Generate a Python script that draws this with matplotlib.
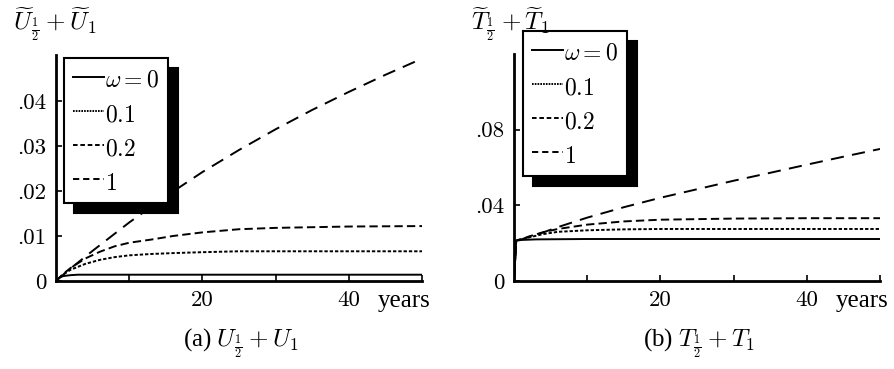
#!/usr/bin/env python3

import matplotlib
matplotlib.use('Agg')
import matplotlib.pyplot as plt
from matplotlib.lines import Line2D

# data
# (a) U_1/2 + U_1
years_u0 = [0, 0.5, 1, 2, 3, 5, 10, 20, 30, 40, 50]
u_w0 = [0, 0.0008, 0.0011, 0.0013, 0.0014, 0.0014, 0.0014, 0.0014, 0.0014, 0.0014, 0.0014]
years_u = [0, 1, 2, 4, 6, 8, 10, 13, 16, 20, 25, 30, 40, 50]
u_w01 = [0, 0.0015, 0.0025, 0.0038, 0.0047, 0.0053, 0.0057, 0.0060, 0.0062,
         0.0064, 0.0066, 0.0066, 0.0066, 0.0066]
u_w02 = [0, 0.0016, 0.0029, 0.0050, 0.0065, 0.0077, 0.0085, 0.0092, 0.0100,
         0.0108, 0.0115, 0.0118, 0.0121, 0.0122]
years_u1 = [0, 2, 5, 10, 15, 20, 25, 30, 35, 40, 45, 50]
u_w1 = [0, 0.0028, 0.0067, 0.0130, 0.0188, 0.0242, 0.0291, 0.0337, 0.0380,
        0.0420, 0.0458, 0.0494]

# (b) T_1/2 + T_1
years_t0 = [0, 0.3, 1, 3, 10, 50]
t_w0 = [0, 0.0213, 0.0217, 0.0220, 0.0222, 0.0222]
years_t = [0, 0.3, 1, 2, 4, 6, 10, 15, 20, 30, 40, 50]
t_w01 = [0, 0.0215, 0.0220, 0.0230, 0.0248, 0.0260, 0.0268, 0.0273, 0.0275,
         0.0275, 0.0275, 0.0275]
t_w02 = [0, 0.0215, 0.0220, 0.0235, 0.0258, 0.0275, 0.0298, 0.0315, 0.0324,
         0.0330, 0.0332, 0.0332]
years_t1 = [0, 0.3, 1, 2, 4, 6, 10, 15, 20, 25, 30, 35, 40, 45, 50]
t_w1 = [0, 0.0215, 0.0220, 0.0232, 0.0257, 0.0285, 0.0335, 0.0390, 0.0440,
        0.0485, 0.0530, 0.0572, 0.0615, 0.0657, 0.0698]

legend_labels = [r'$\omega=0$', r'$0.1$', r'$0.2$', r'$1$']
x_ticks = [10, 20, 30, 40, 50]
x_ticklabels = ['', '20', '', '40', '']
u_yticks = [0, 0.01, 0.02, 0.03, 0.04]
u_yticklabels = ['0', '.01', '.02', '.03', '.04']
t_yticks = [0, 0.04, 0.08]
t_yticklabels = ['0', '.04', '.08']

plt.rcParams['mathtext.fontset'] = 'cm'
plt.rcParams['font.family'] = 'serif'
plt.rcParams['font.serif'] = ['Liberation Serif', 'DejaVu Serif']
plt.rcParams['lines.scale_dashes'] = False

W, H = 894, 369
fig = plt.figure(figsize=(W / 100, H / 100), dpi=100)

styles = ['-', (0, (2.4, 1.4)), (0, (6, 3)), (0, (9.5, 6))]
leg_styles = ['-', (0, (1.2, 0.8)), (0, (3.3, 2)), (0, (4.5, 2.8))]
LW = 1.4
TICK_FS = 16.5
LEG_FS = 17
TXT_FS = 18


def panel(rect, series, yticks, yticklabels, ylim, legend_xy):
    ax = fig.add_axes(rect)
    for (xs, ys), ls in zip(series, styles):
        ax.plot(xs, ys, color='black', linestyle=ls, lw=LW)
    ax.set_xlim(0, 50)
    ax.set_ylim(*ylim)
    for s in ['top', 'right']:
        ax.spines[s].set_visible(False)
    for s in ['left', 'bottom']:
        ax.spines[s].set_linewidth(2)
    ax.set_xticks(x_ticks)
    ax.set_xticklabels(x_ticklabels, fontsize=TICK_FS, family='cmr10')
    ax.set_yticks(yticks)
    ax.set_yticklabels(yticklabels, fontsize=TICK_FS, family='cmr10')
    ax.tick_params(direction='in', length=4, width=1.2, pad=7)
    ax.text(47.5, -0.09, 'years', transform=ax.get_xaxis_transform(),
            ha='center', va='center', fontsize=TXT_FS)
    handles = [Line2D([], [], color='black', lw=LW, linestyle=ls)
               for ls in leg_styles]
    leg = ax.legend(handles, legend_labels, loc='upper left',
                    bbox_to_anchor=legend_xy, bbox_transform=fig.transFigure,
                    borderaxespad=0, fontsize=LEG_FS, fancybox=False,
                    framealpha=1, edgecolor='black', handlelength=1.33,
                    handletextpad=0.05, handleheight=1.23, labelspacing=0.38,
                    borderpad=0.36,
                    shadow={'ox': 7.2, 'oy': -7.2, 'color': 'black', 'alpha': 1})
    leg.get_frame().set_linewidth(1.5)
    return ax


panel([56 / W, 1 - 281 / H, 366 / W, 226 / H],
      [(years_u0, u_w0), (years_u, u_w01), (years_u, u_w02), (years_u1, u_w1)],
      u_yticks, u_yticklabels, (0, 0.0502), (64 / W, 1 - 58 / H))
panel([514 / W, 1 - 281 / H, 366 / W, 227 / H],
      [(years_t0, t_w0), (years_t, t_w01), (years_t, t_w02), (years_t1, t_w1)],
      t_yticks, t_yticklabels, (0, 0.120), (523 / W, 1 - 31 / H))

fig.text(13 / W, 1 - 24 / H, r'$\widetilde{U}_{\frac{1}{2}}+\widetilde{U}_1$',
         fontsize=TXT_FS, ha='left', va='center')
fig.text(471 / W, 1 - 24 / H, r'$\widetilde{T}_{\frac{1}{2}}+\widetilde{T}_1$',
         fontsize=TXT_FS, ha='left', va='center')
fig.text(241 / W, 1 - 343 / H, r'(a) $U_{\frac{1}{2}}+U_1$',
         fontsize=TXT_FS, ha='center', va='center')
fig.text(699 / W, 1 - 343 / H, r'(b) $T_{\frac{1}{2}}+T_1$',
         fontsize=TXT_FS, ha='center', va='center')

fig.savefig('out.png', dpi=100)
